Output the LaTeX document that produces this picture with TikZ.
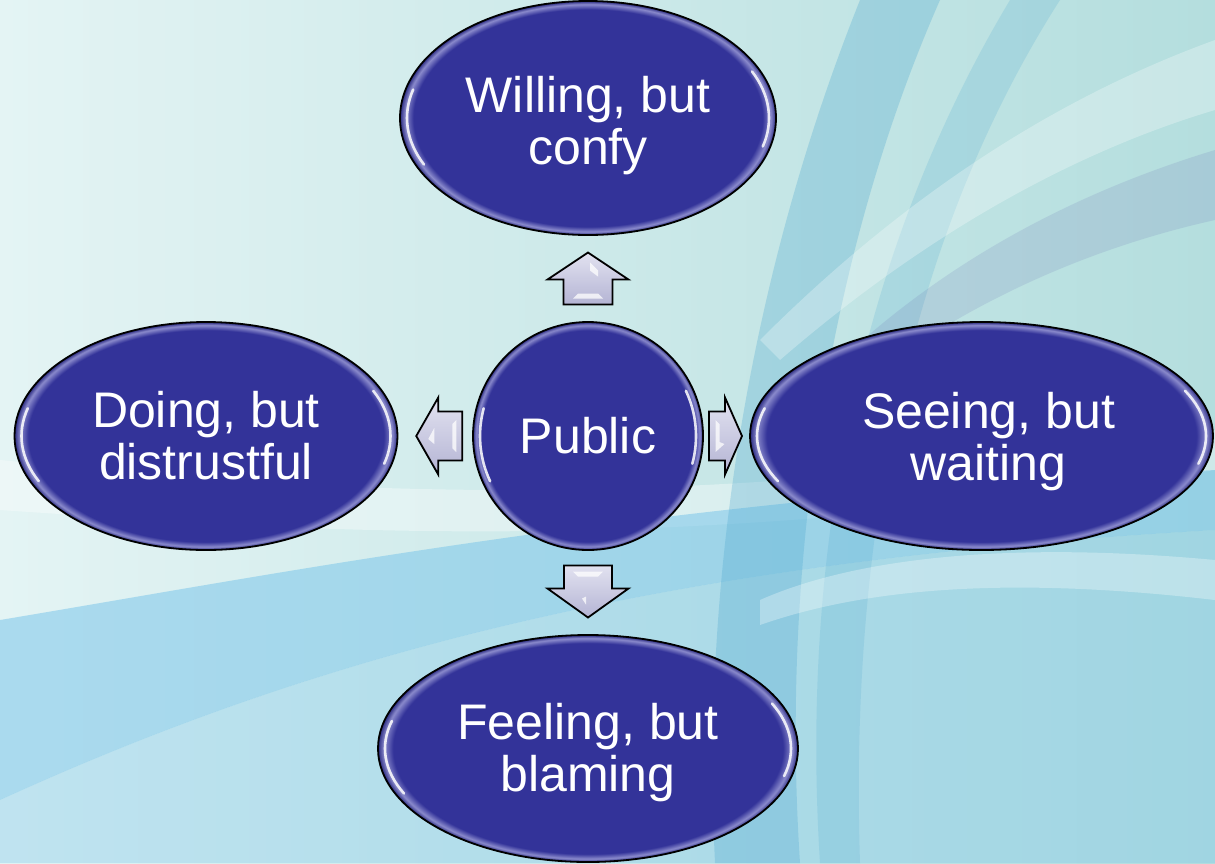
\documentclass[tikz,border=0pt]{standalone}
\usepackage{fontspec}
\setmainfont{Liberation Sans}
\usetikzlibrary{shapes.geometric,calc}
\definecolor{ellblue}{HTML}{333399}
\definecolor{rimblue}{HTML}{8A8ACC}
\definecolor{rimdark}{HTML}{2A2A80}
\definecolor{arrowtop}{HTML}{E2E2F0}
\definecolor{arrowbot}{HTML}{B4B4D4}
\definecolor{bgL}{HTML}{E4F4F4}
\definecolor{bgR}{HTML}{B4DEDE}
\definecolor{sky}{HTML}{7CC6EA}
\definecolor{arcblue}{HTML}{4FA8D0}
\pgfdeclareradialshading{bubble}{\pgfpoint{0bp}{0bp}}{color(0bp)=(ellblue); color(23.2bp)=(ellblue); color(24.3bp)=(rimblue); color(25bp)=(rimdark); color(50bp)=(rimdark)}
\tikzset{
  bub/.style={ellipse, draw=black, line width=0.9pt, shading=bubble, text=white,
    font=\fontsize{25}{26}\selectfont, align=center, inner sep=0pt},
  blockarrow/.style={draw=black, line width=0.9pt, top color=arrowtop, bottom color=arrowbot, line join=miter},
  bevel/.style={fill=white, opacity=0.75},
  hl/.style={white, line width=1.3pt, opacity=0.85, line cap=round}
}
\begin{document}
\begin{tikzpicture}[x=0.5pt,y=-0.5pt]
\useasboundingbox (0,0) rectangle (1215,863);
% background
\shade[left color=bgL, right color=bgR] (0,0) rectangle (1215,863);
\fill[white, opacity=0.35] (0,460) .. controls (300,490) and (650,520) .. (1215,430) -- (1215,470) .. controls (650,560) and (300,530) .. (0,510) -- cycle;
\fill[sky, opacity=0.55] (0,620) .. controls (300,570) and (650,500) .. (1215,470) -- (1215,530) .. controls (700,560) and (350,640) .. (0,800) -- cycle;
\fill[sky, opacity=0.35] (0,800) .. controls (350,640) and (700,560) .. (1215,530) -- (1215,863) -- (0,863) -- cycle;
\fill[arcblue, opacity=0.30] (860,0) .. controls (760,250) and (700,550) .. (715,863) -- (800,863) .. controls (780,560) and (830,250) .. (940,0) -- cycle;
\fill[arcblue, opacity=0.20] (1010,0) .. controls (860,250) and (800,550) .. (820,863) -- (860,863) .. controls (850,560) and (900,250) .. (1060,0) -- cycle;
\fill[white, opacity=0.28] (1215,40) .. controls (1050,100) and (900,200) .. (760,340) -- (780,360) .. controls (930,230) and (1080,150) .. (1215,110) -- cycle;
\fill[arcblue!60!violet, opacity=0.15] (1215,150) .. controls (1050,200) and (920,280) .. (820,380) -- (840,400) .. controls (950,310) and (1080,250) .. (1215,220) -- cycle;
\fill[white, opacity=0.3] (1215,560) .. controls (1000,540) and (850,560) .. (760,600) -- (760,625) .. controls (860,590) and (1000,575) .. (1215,600) -- cycle;
% nodes
\node[bub, minimum width=188pt, minimum height=117pt] (top) at (588,118) {\rule{0pt}{25.3pt}Willing, but\\confy};
\node[bub, minimum width=191.5pt, minimum height=114pt] (left) at (206,436) {Doing, but\\distrustful};
\node[bub, minimum width=231.5pt, minimum height=114pt] (right) at (981.5,436) {\rule{0pt}{23.3pt}\hspace*{7pt}Seeing, but\\\hspace*{7pt}waiting};
\node[bub, minimum width=210pt, minimum height=113.5pt] (bottom) at (588,748.5) {\rule{0pt}{22.3pt}Feeling, but\\blaming};
\node[bub, minimum width=115pt, minimum height=114pt] (pub) at (588,436) {Public};
% highlights
\foreach \n/\rx/\ry in {top/188/117, left/191.5/114, right/231.5/114, bottom/210/113.5, pub/115/114}{
  \begin{scope}[shift={(\n.center)}]
    \draw[hl] (155:{\rx-7} and {\ry-7}) arc[start angle=155, end angle=195, x radius={\rx-7}, y radius={\ry-7}];
    \draw[hl] (-25:{\rx-7} and {\ry-7}) arc[start angle=-25, end angle=15, x radius={\rx-7}, y radius={\ry-7}];
  \end{scope}
}
% block arrows
\begin{scope}[shift={($(pub.north)!0.5!(top.south)$)}]
  \draw[blockarrow] (0,-26) -- (40.5,1) -- (24.5,1) -- (24.5,26) -- (-24.5,26) -- (-24.5,1) -- (-40.5,1) -- cycle;
  \fill[bevel] (-15,20) -- (15,20) -- (10,15) -- (-10,15) -- cycle;
  \fill[bevel] (2,-16) -- (10,-8) -- (10,-2) -- (2,-8) -- cycle;
\end{scope}
\begin{scope}[shift={($(pub.south)!0.5!(bottom.north)$)}]
  \draw[blockarrow] (0,25) -- (40.5,-4) -- (24,-4) -- (24,-27) -- (-24,-27) -- (-24,-4) -- (-40.5,-4) -- cycle;
  \fill[bevel] (-15,-21) -- (15,-21) -- (10,-16) -- (-10,-16) -- cycle;
  \fill[bevel] (-6,6) -- (-2,4) -- (-2,12) -- cycle;
\end{scope}
\begin{scope}[shift={($(pub.west)!0.5!(left.east)$)}]
  \draw[blockarrow] (-19,0) -- (3,-38.5) -- (3,-24.5) -- (27,-24.5) -- (27,24.5) -- (3,24.5) -- (3,38.5) -- cycle;
  \fill[bevel] (-7,3) -- (-1,-8) -- (-1,8) -- cycle;
  \fill[bevel] (17,-12) -- (21,-16) -- (21,16) -- (17,12) -- cycle;
\end{scope}
\begin{scope}[shift={($(pub.east)!0.5!(right.west)$)}]
  \draw[blockarrow] (15.5,0) -- (-1.5,-38.5) -- (-1.5,-24.5) -- (-17.5,-24.5) -- (-17.5,24.5) -- (-1.5,24.5) -- (-1.5,38.5) -- cycle;
  \fill[bevel] (-11,-16) -- (-7,-12) -- (-7,6) -- (-2,8) -- (-11,16) -- cycle;
\end{scope}
\end{tikzpicture}
\end{document}
